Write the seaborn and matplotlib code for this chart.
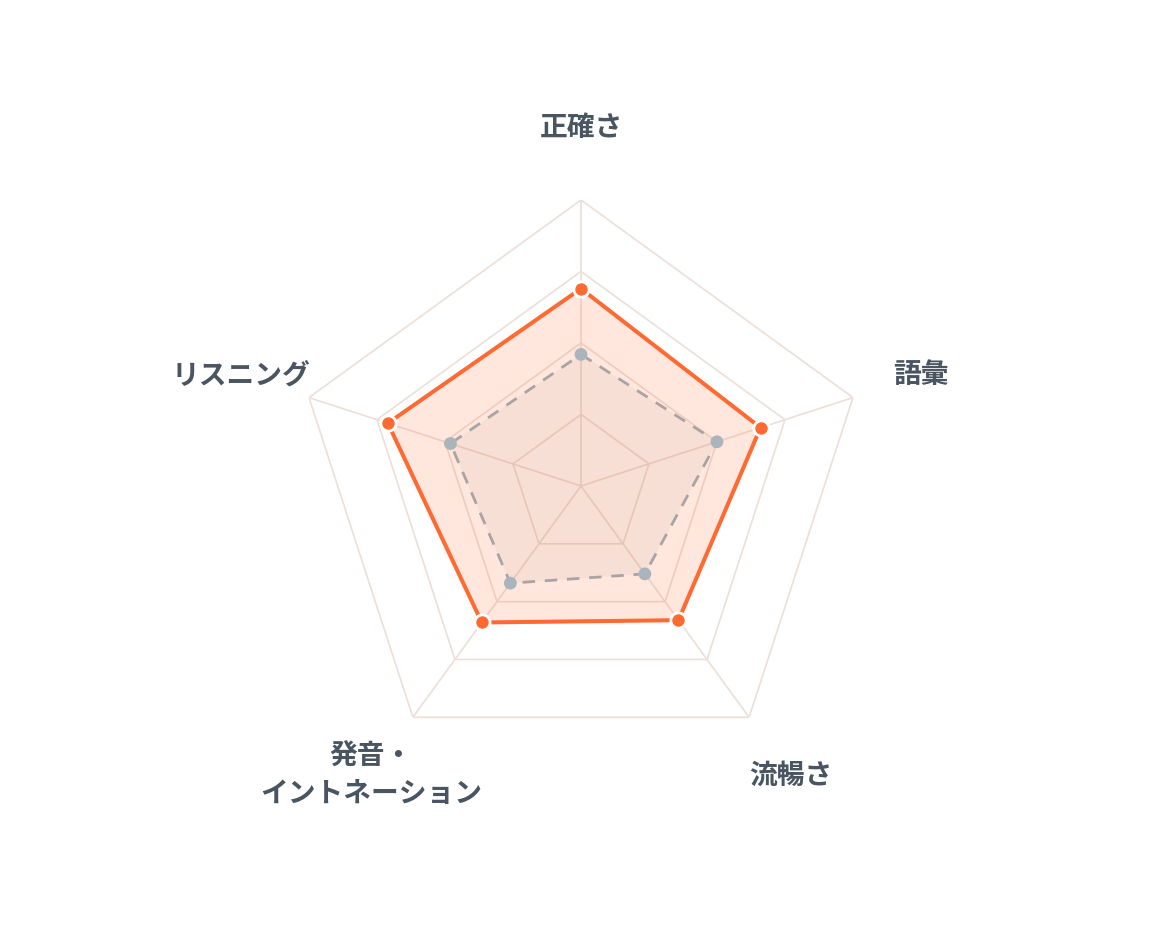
import numpy as np
import pandas as pd
import matplotlib
matplotlib.use("Agg")
import matplotlib.pyplot as plt
import seaborn as sns

sns.set_style("white")
plt.rcParams["font.family"] = ["Noto Sans CJK JP", "DejaVu Sans"]

# data (0-100 scale)
skills = ["正確さ", "語彙", "流暢さ", "発音・\nイントネーション", "リスニング"]
current = [69, 66, 58, 59, 71]
previous = [46, 50, 38, 42, 48]
grid_levels = [25, 50, 75, 100]

# colours
orange = "#ff6a33"
grey_line = "#aaa3a3"
grey_dot = "#a9b4bc"
grid_col = "#ecdfd7"
text_col = "#4a5562"

n = len(skills)
theta = np.linspace(0, 2 * np.pi, n, endpoint=False)
# close the loop at 2*pi so seaborn does not merge it with theta=0
theta_closed = np.append(theta, 2 * np.pi)

df = pd.DataFrame({
    "theta": np.tile(theta_closed, 2),
    "value": current + [current[0]] + previous + [previous[0]],
    "series": ["current"] * (n + 1) + ["previous"] * (n + 1),
})
df_cur = df[df.series == "current"]
df_prev = df[df.series == "previous"]

fig = plt.figure(figsize=(11.6, 9.5), dpi=100)
ax = fig.add_axes([0.2543, 0.1874, 0.4931, 0.6021], projection="polar")
ax.set_theta_offset(np.pi / 2)
ax.set_theta_direction(-1)
ax.set_ylim(0, 100)
ax.grid(False)
ax.spines["polar"].set_visible(False)
ax.set_xticks([])
ax.set_yticks([])
ax.set_facecolor("none")

# pentagon grid
for lv in grid_levels:
    ax.plot(theta_closed, [lv] * (n + 1), color=grid_col, lw=1.2, zorder=1)
for t in theta:
    ax.plot([t, t], [0, 100], color=grid_col, lw=1.2, zorder=1)

# fills
ax.fill(theta_closed, df_cur["value"], color=orange, alpha=0.16, lw=0, zorder=2)
ax.fill(theta_closed, df_prev["value"], color="#9a8680", alpha=0.08, lw=0, zorder=3)

# previous (dashed grey)
sns.lineplot(data=df_prev, x="theta", y="value", sort=False, estimator=None, ax=ax,
             color=grey_line, lw=2.0, linestyle=(0, (4.5, 3.5)), zorder=4)
sns.scatterplot(data=df_prev.iloc[:n], x="theta", y="value", ax=ax,
                color=grey_dot, s=85, edgecolor="none", zorder=5)

# current (orange)
sns.lineplot(data=df_cur, x="theta", y="value", sort=False, estimator=None, ax=ax,
             color=orange, lw=2.9, zorder=6)
sns.scatterplot(data=df_cur.iloc[:n], x="theta", y="value", ax=ax,
                color=orange, s=120, edgecolor="white", linewidth=2, zorder=7)

ax.set_xlabel("")
ax.set_ylabel("")
ax.set_ylim(0, 100)

# axis labels
for t, lab in zip(theta, skills):
    ax.text(t, 125, lab, ha="center", va="center", fontsize=20,
            fontweight="bold", color=text_col, linespacing=1.4)

fig.savefig("out.png", dpi=100, facecolor="white")
